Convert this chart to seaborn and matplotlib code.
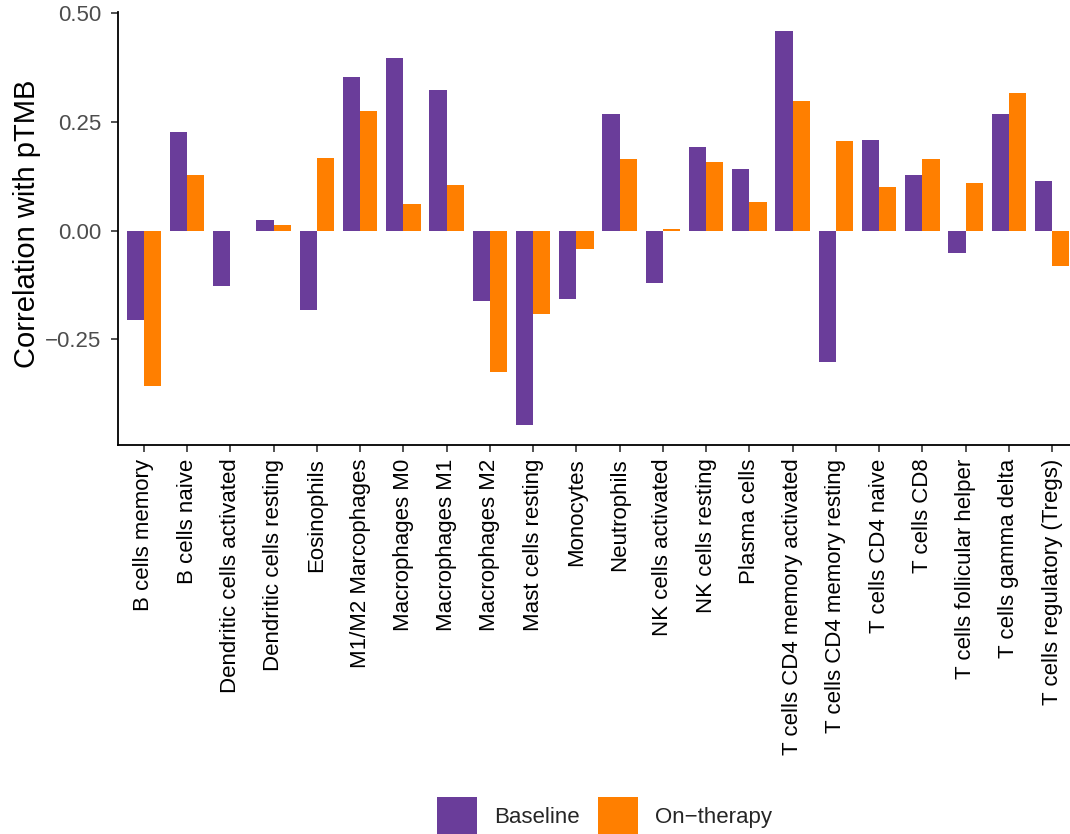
import numpy as np
import pandas as pd
import matplotlib
matplotlib.use("Agg")
import matplotlib.pyplot as plt
import seaborn as sns

cell_types = [
    "B cells memory", "B cells naive", "Dendritic cells activated",
    "Dendritic cells resting", "Eosinophils", "M1/M2 Marcophages",
    "Macrophages M0", "Macrophages M1", "Macrophages M2", "Mast cells resting",
    "Monocytes", "Neutrophils", "NK cells activated", "NK cells resting",
    "Plasma cells", "T cells CD4 memory activated", "T cells CD4 memory resting",
    "T cells CD4 naive", "T cells CD8", "T cells follicular helper",
    "T cells gamma delta", "T cells regulatory (Tregs)",
]
baseline = [
    -0.205, 0.227, -0.127, 0.025, -0.183, 0.354, 0.397, 0.324, -0.162, -0.448,
    -0.156, 0.269, -0.121, 0.193, 0.143, 0.460, -0.303, 0.208, 0.128, -0.052,
    0.269, 0.115,
]
on_therapy = [
    -0.357, 0.128, np.nan, 0.013, 0.167, 0.275, 0.061, 0.104, -0.325, -0.191,
    -0.041, 0.165, 0.003, 0.159, 0.065, 0.298, 0.206, 0.101, 0.164, 0.110,
    0.316, -0.082,
]
timepoints = ["Baseline", "On\u2212therapy"]
colors = ["#6A3D9A", "#FF7F00"]

df = pd.DataFrame({
    "cell": cell_types * 2,
    "timepoint": [timepoints[0]] * len(cell_types) + [timepoints[1]] * len(cell_types),
    "corr": baseline + on_therapy,
}).dropna()

sns.set_style("white")
plt.rcParams["font.family"] = ["Liberation Sans", "DejaVu Sans"]

W, H = 1070, 834
fig = plt.figure(figsize=(W / 100, H / 100), dpi=100)
ax_left, ax_right = 118 / W, 1078 / W
ax_top, ax_bottom = 1 - 11.7 / H, 1 - 444.7 / H
ax = fig.add_axes([ax_left, ax_bottom, ax_right - ax_left, ax_top - ax_bottom])

sns.barplot(
    data=df, x="cell", y="corr", hue="timepoint",
    order=cell_types, hue_order=timepoints, palette=colors,
    errorbar=None, width=0.8, saturation=1, linewidth=0, ax=ax,
)

ax.set_xlim(-0.6, len(cell_types) - 0.4)
ax.set_ylim(-0.4922, 0.5037)
ax.set_yticks([-0.25, 0.0, 0.25, 0.50])
ax.set_yticklabels(["\u22120.25", "0.00", "0.25", "0.50"])
ax.set_xlabel("")
ax.set_ylabel("Correlation with pTMB", fontsize=21, color="black")
ax.yaxis.set_label_coords(-0.080, 0.511)

ax.tick_params(axis="x", labelrotation=90, labelsize=16, labelcolor="black",
               length=5, width=1.2, color="#333333", pad=5, direction="out")
ax.tick_params(axis="y", labelsize=16, labelcolor="#4D4D4D",
               length=5, width=1.2, color="#333333", pad=7, direction="out")
ax.tick_params(bottom=True, left=True)

for side in ["top", "right"]:
    ax.spines[side].set_visible(False)
for side in ["left", "bottom"]:
    ax.spines[side].set_linewidth(1.3)
    ax.spines[side].set_color("black")

handles, labels = ax.get_legend_handles_labels()
ax.get_legend().remove()
fig.legend(
    handles, labels, loc="upper center", bbox_to_anchor=(604.5 / W, 1 - 797 / H),
    ncol=2, frameon=False, fontsize=16, handlelength=1.8, handleheight=2.2,
    handletextpad=0.8, columnspacing=0.8, borderpad=0, borderaxespad=0,
)

fig.savefig("out.png", dpi=100)
